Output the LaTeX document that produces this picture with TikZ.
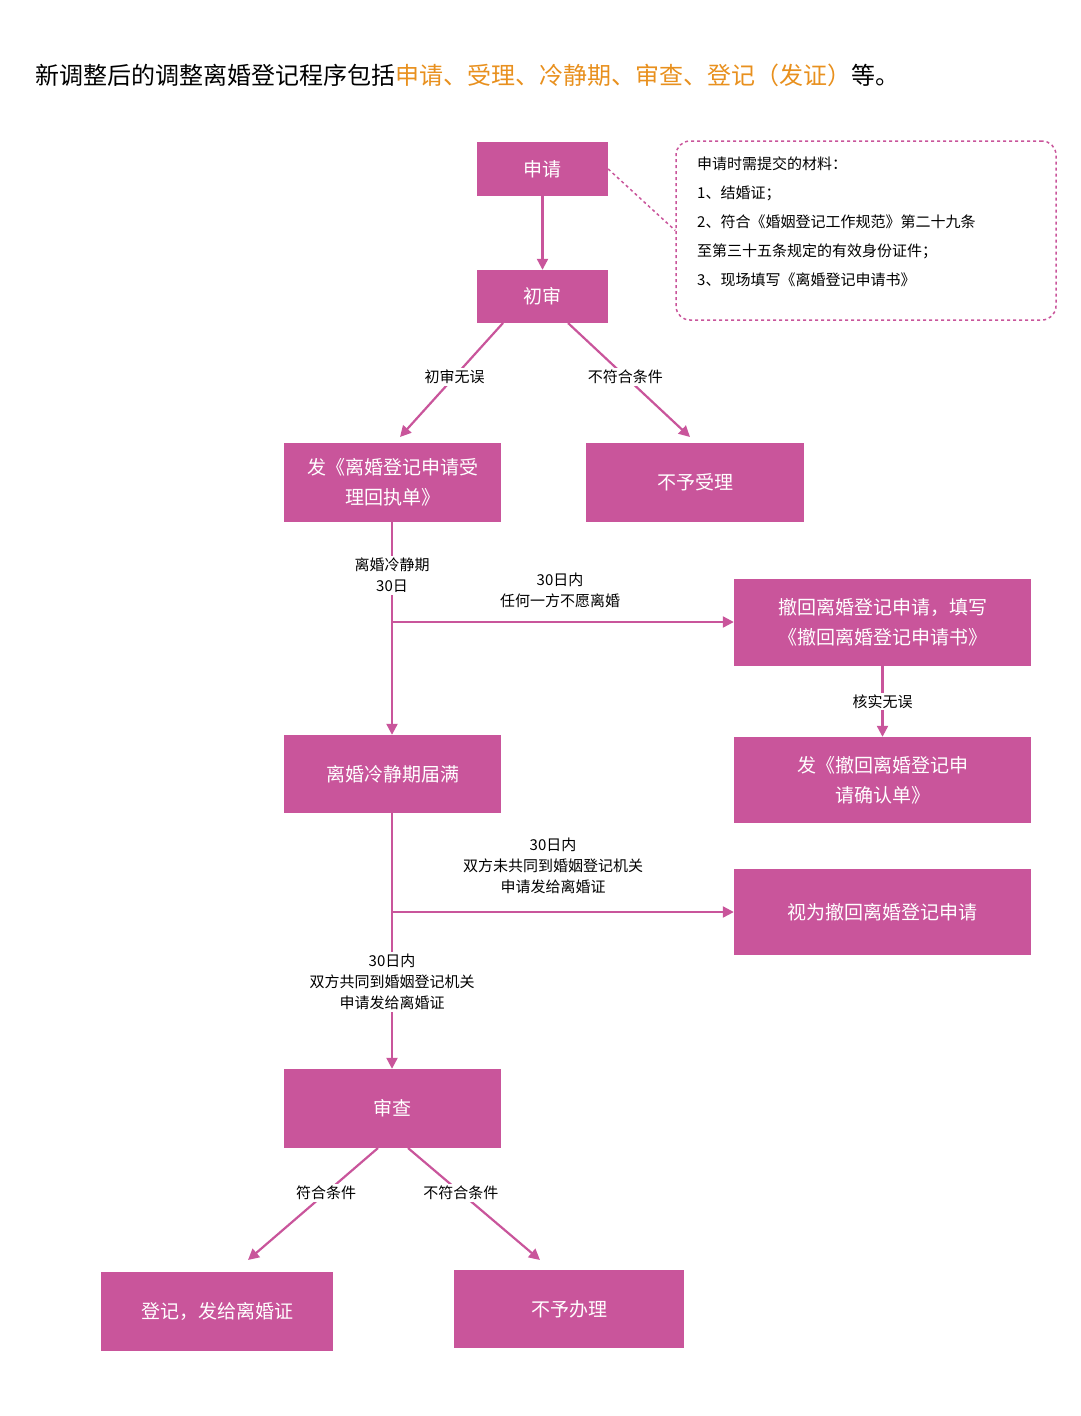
\documentclass[tikz,border=0pt]{standalone}
\usepackage{fontspec}
\setmainfont{Noto Sans CJK SC}
\usetikzlibrary{arrows.meta}
\definecolor{pk}{HTML}{C9559B}
\definecolor{og}{HTML}{E8901E}
\begin{document}
\begin{tikzpicture}[x=1pt,y=-1pt,
 box/.style={fill=pk,text=white,font=\fontsize{19}{30}\selectfont,align=center,inner sep=0pt},
 lab/.style={fill=white,font=\fontsize{15}{21}\selectfont,align=center,inner sep=2pt},
 ar/.style={draw=pk,line width=2.2pt,-{Triangle[length=11pt,width=11pt]}},
 ln/.style={draw=pk,line width=2.2pt}]
\useasboundingbox (0,0) rectangle (1080,1416);
\node[font=\fontsize{24}{28}\selectfont,anchor=west] (title) at (32,75) {新调整后的调整离婚登记程序包括\textcolor{og}{申请、受理、冷静期、审查、登记（发证）}等。};
\newcommand\bx[6]{\node[box,minimum width=#4-#2,minimum height=#5-#3] (#1) at ({(#2+#4)/2},{(#3+#5)/2}) {#6};}
\bx{sq}{477}{142}{608}{196}{申请}
\bx{cs}{477}{270}{608}{323}{初审}
\bx{hz}{284}{443}{501}{522}{发《离婚登记申请受\\理回执单》}
\bx{bysl}{586}{443}{804}{522}{不予受理}
\bx{ch}{734}{579}{1031}{666}{撤回离婚登记申请，填写\\《撤回离婚登记申请书》}
\bx{qr}{734}{737}{1031}{823}{发《撤回离婚登记申\\请确认单》}
\bx{jm}{284}{735}{501}{813}{离婚冷静期届满}
\bx{sw}{734}{869}{1031}{955}{视为撤回离婚登记申请}
\bx{sc}{284}{1069}{501}{1148}{审查}
\bx{dj}{101}{1272}{333}{1351}{登记，发给离婚证}
\bx{bybl}{454}{1270}{684}{1348}{不予办理}
\node[draw=pk,dashed,line width=1.5pt,rounded corners=14pt,minimum width=380,minimum height=179,inner sep=0pt] (note) at (866,230.5) {};
\node[anchor=north west,align=left,font=\fontsize{15}{29}\selectfont,inner sep=0pt] (nt) at (697,157) {申请时需提交的材料：\\1、结婚证；\\2、符合《婚姻登记工作规范》第二十九条\\至第三十五条规定的有效身份证件；\\3、现场填写《离婚登记申请书》};
\draw[draw=pk,dashed,line width=1.5pt] (sq.east) -- (note.west);
\draw[ar] (sq) -- (cs);
\coordinate (c1) at (503,323); \coordinate (c2) at (568,323);
\draw[ar] (c1) -- (400,437) node[lab,pos=.47] (l1) {初审无误};
\draw[ar] (c2) -- (690,437) node[lab,pos=.47] (l2) {不符合条件};
\coordinate (b1) at (392,622);
\draw[ar] (hz.south -| b1) -- (jm.north -| b1) node[lab,pos=.25] (l3) {离婚冷静期\\30日};
\draw[ar] (b1) -- (ch.west |- b1);
\node[lab,fill=none] (l4) at (560,590) {30日内\\任何一方不愿离婚};
\draw[ar] (ch) -- (qr) node[lab,midway] (l5) {核实无误};
\coordinate (b2) at (392,912);
\draw[ar] (jm.south -| b2) -- (sc.north -| b2) node[lab,pos=.66] (l6) {30日内\\双方共同到婚姻登记机关\\申请发给离婚证};
\draw[ar] (b2) -- (sw.west |- b2);
\node[lab,fill=none] (l7) at (553,866) {30日内\\双方未共同到婚姻登记机关\\申请发给离婚证};
\coordinate (s1) at (378,1148); \coordinate (s2) at (408,1148);
\draw[ar] (s1) -- (248,1260) node[lab,pos=.4] (l8) {符合条件};
\draw[ar] (s2) -- (540,1260) node[lab,pos=.4] (l9) {不符合条件};
\end{tikzpicture}
\end{document}
